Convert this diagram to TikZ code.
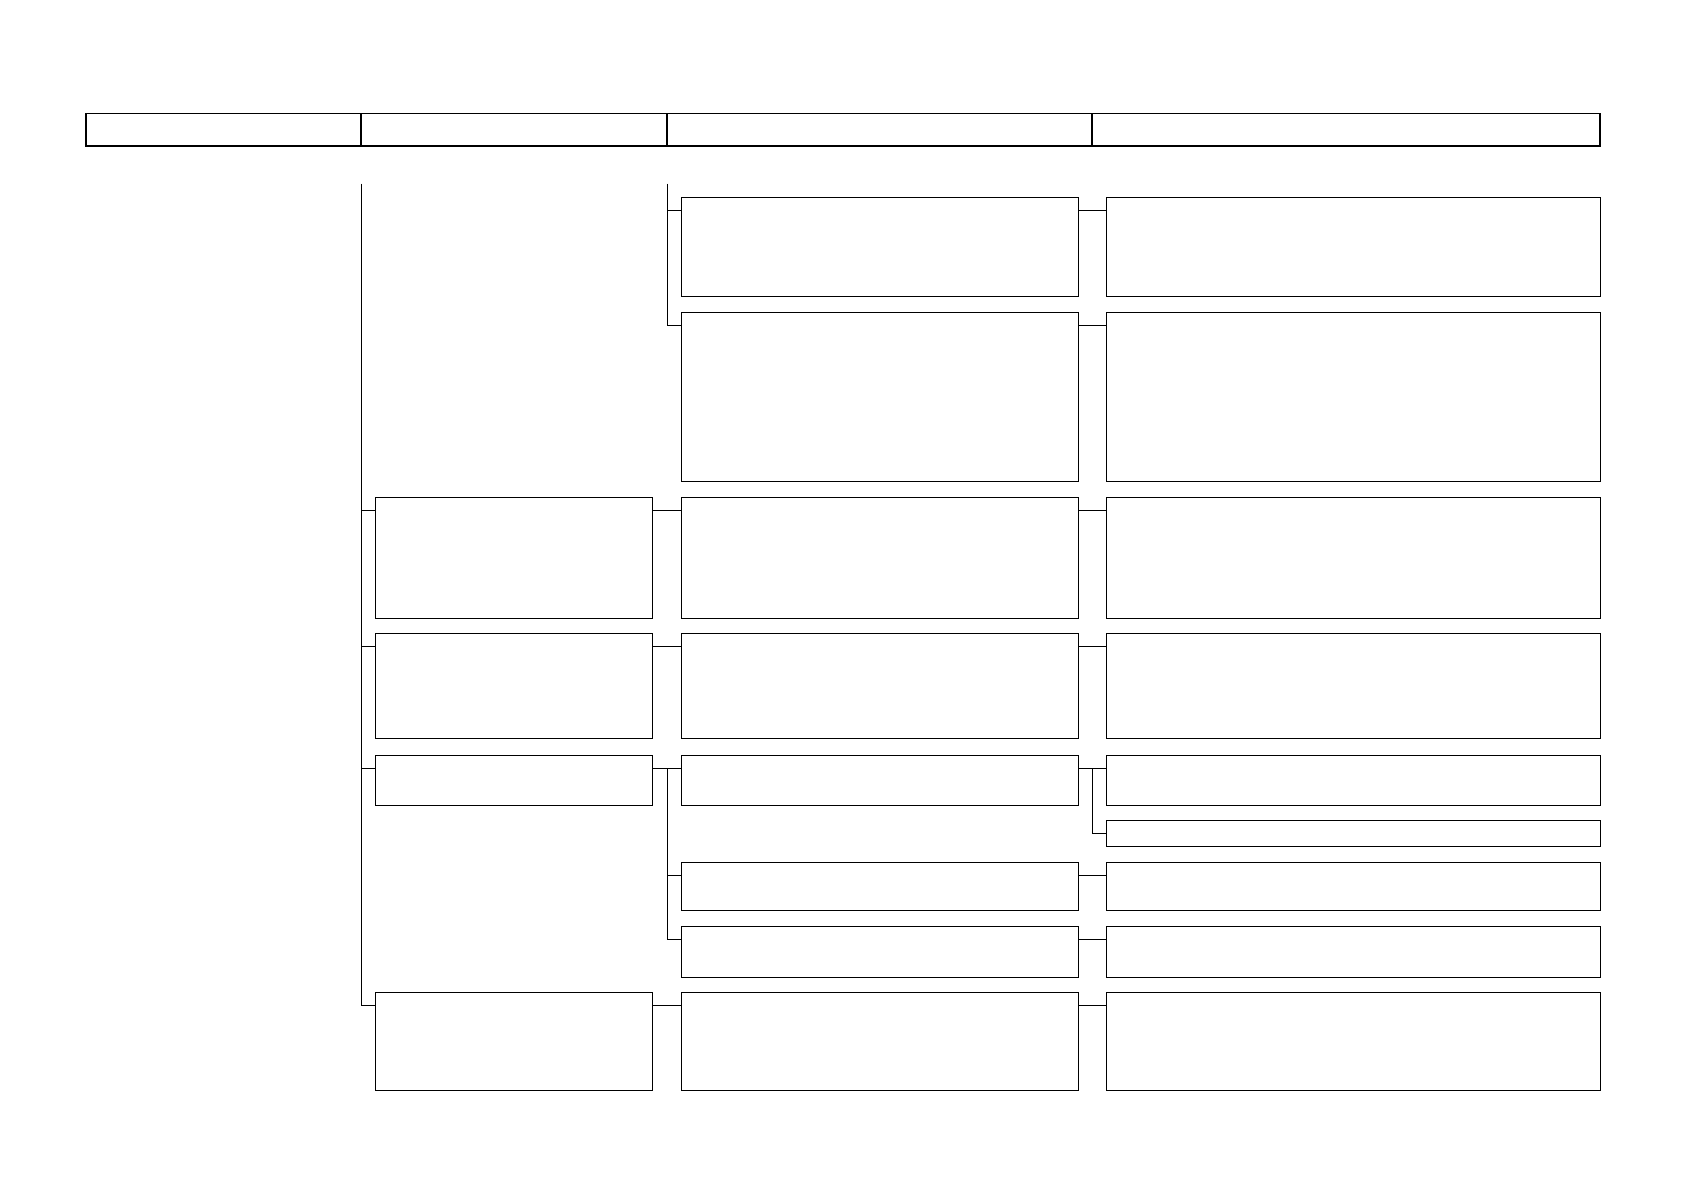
\documentclass[tikz,border=0pt]{standalone}
\usetikzlibrary{positioning}

\begin{document}
\begin{tikzpicture}[x=1pt, y=-1pt,
        cell/.style={draw, line width=0.9pt, inner sep=0pt, outer sep=0pt, anchor=north west},
        head/.style={cell, line width=1.8pt, minimum height=32.5pt},
        col2/.style={cell, minimum width=277pt},
        col3/.style={cell, minimum width=397pt},
        col4/.style={cell, minimum width=493.5pt},
        link/.style={line width=0.9pt}]
        \useasboundingbox (0,0) rectangle (1684,1191);

        % header row
        \node [head, minimum width=275pt] (h1) at (86,113.5) {};
        \node [head, minimum width=306pt, right=0pt of h1] (h2) {};
        \node [head, minimum width=425pt, right=0pt of h2] (h3) {};
        \node [head, minimum width=508pt, right=0pt of h3] (h4) {};

        % third and fourth columns
        \foreach \r/\y/\h in {1/197.6/98.8, 2/312.5/168.5, 3/497.3/121.3, 4/633.7/105.2,
                              5/755/50, 6/862.4/48.3, 7/926.8/50.5, 8/992.4/97.7} {
                \node [col3, minimum height=\h pt] (c\r) at (681.5,\y) {};
                \node [col4, minimum height=\h pt] (d\r) at (1106.5,\y) {};
                \draw [link] ([yshift=-13pt]c\r.north east) -- ([yshift=-13pt]d\r.north west);
        }
        \node [col4, minimum height=25.8pt] (d5b) at (1106.5,820.4) {};

        % second column
        \foreach \r/\y/\h in {3/497.3/121.3, 4/633.7/105.2, 5/755/50, 8/992.4/97.7} {
                \node [col2, minimum height=\h pt] (b\r) at (375.5,\y) {};
                \draw [link] ([yshift=-13pt]b\r.north east) -- ([yshift=-13pt]c\r.north west);
                \draw [link] ([yshift=-13pt]b\r.north west) -- +(-14.5,0);
        }

        % trunks
        \coordinate (top2) at (361,183.5);
        \coordinate (top3) at (667.5,183.5);
        \draw [link] (top2) |- ([yshift=-13pt]b8.north west);
        \draw [link] (top3) |- ([yshift=-13pt]c2.north west);
        \draw [link] ([yshift=-13pt]c1.north west) -- +(-14,0);
        \draw [link] ([yshift=-13pt,xshift=-14pt]c5.north west) |- ([yshift=-13pt]c7.north west);
        \draw [link] ([yshift=-13pt]c6.north west) -- +(-14,0);
        \draw [link] ([yshift=-13pt,xshift=-14pt]d5.north west) |- ([yshift=-13pt]d5b.north west);
\end{tikzpicture}
\end{document}
